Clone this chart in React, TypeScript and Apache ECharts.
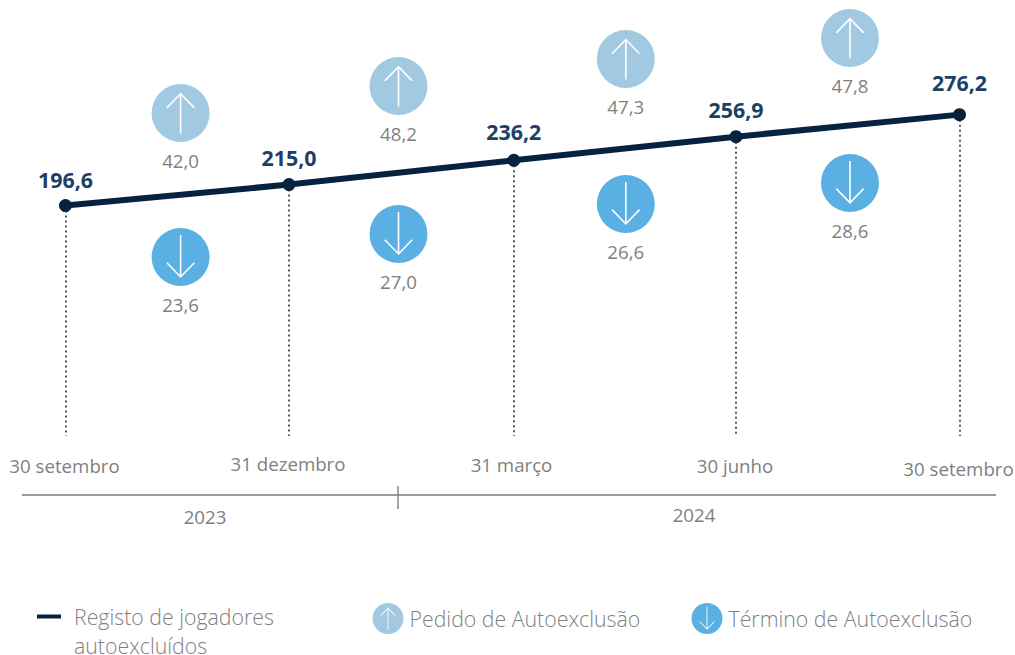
import React, { useEffect, useRef } from "react";
import * as echarts from "echarts";

const dateLabels = ["30 setembro", "31 dezembro", "31 março", "30 junho", "30 setembro"];
const yearLabels = ["2023", "2024"];
const registo = [196.6, 215.0, 236.2, 256.9, 276.2];
const pedido = [42.0, 48.2, 47.3, 47.8];
const termino = [23.6, 27.0, 26.6, 28.6];
// schematic placement along the axes (not the values themselves)
const pointX = [0, 1, 2.006, 3, 4];
const bubbleX = [0.515, 1.49, 2.507, 3.51];
const pedidoLevel = [277.6, 301.2, 324.9, 343.2];
const terminoLevel = [151.6, 171.7, 198, 216.4];
const labelLift = [9, 10, 12, 10, 15];
const tickDrop = [2, 0, 1, 2, 5];

const NAME_LINE = "Registo de jogadores autoexcluídos";
const NAME_UP = "Pedido de Autoexclusão";
const NAME_DOWN = "Término de Autoexclusão";

const circle = "M29 0A29 29 0 1 1 29 58A29 29 0 1 1 29 0Z";
const upPath =
  "path://" + circle +
  "M29 8.5L14.7 23.3L15.8 24.4L28.2 11.6L28.2 49.5L29.8 49.5L29.8 11.6L42.2 24.4L43.3 23.3Z";
const downPath =
  "path://" + circle +
  "M29 50L43.3 35.2L42.2 34.1L29.8 46.9L29.8 7L28.2 7L28.2 46.9L15.8 34.1L14.7 35.2Z";

const fmt = (v: number) => v.toFixed(1).replace(".", ",");
const FONT = '"Open Sans", sans-serif';
const GREY = "#808080";

export default function App() {
  const ref = useRef<HTMLDivElement>(null);
  useEffect(() => {
    document.body.style.margin = "0";
    const chart = echarts.init(ref.current!, null, { renderer: "svg" });
    const bubbles = (name: string, color: string, symbol: string, values: number[], levels: number[]) => ({
      name,
      type: "scatter",
      symbol,
      symbolSize: 58,
      itemStyle: { color, opacity: 1 },
      data: values.map((v, i) => [bubbleX[i], levels[i], v]),
      label: {
        show: true,
        position: "bottom",
        distance: 9,
        color: GREY,
        fontFamily: FONT,
        fontSize: 18.7,
        formatter: (p: any) => fmt(p.value[2]),
      },
      z: 3,
    });
    const tickRich: Record<string, any> = {};
    tickDrop.forEach((d, i) => {
      tickRich["t" + i] = {
        color: GREY,
        fontFamily: FONT,
        fontSize: 18.7,
        padding: [d, 2, 0, 0],
      };
    });
    const legendText = (left: number) => ({
      color: GREY,
      fontFamily: FONT,
      fontWeight: 300,
      fontSize: 21.3,
      padding: [0, 0, 0, left],
    });
    chart.setOption({
      animation: false,
      grid: { left: 65.5, right: 55.5, top: 36, bottom: 219, outerBoundsMode: "none" },
      xAxis: {
        type: "value",
        min: 0,
        max: 4,
        interval: 1,
        axisLine: { show: false },
        axisTick: { show: false },
        splitLine: { show: false },
        axisLabel: {
          margin: 18,
          hideOverlap: false,
          showMinLabel: true,
          showMaxLabel: true,
          formatter: (v: number) => `{t${v}|${dateLabels[v]}}`,
          rich: tickRich,
        },
      },
      yAxis: { type: "value", min: -5, max: 345, show: false },
      legend: [
        {
          data: [{ name: NAME_LINE, icon: "rect" }],
          left: 32, top: 601, itemWidth: 24, itemHeight: 4, selectedMode: false,
          formatter: () => "Registo de jogadores",
          textStyle: legendText(8),
        },
        {
          data: [{ name: NAME_UP, icon: upPath }],
          left: 367.5, top: 598, itemWidth: 31, itemHeight: 31, selectedMode: false,
          textStyle: legendText(1),
        },
        {
          data: [{ name: NAME_DOWN, icon: downPath }],
          left: 686.5, top: 598, itemWidth: 31, itemHeight: 31, selectedMode: false,
          textStyle: legendText(1),
        },
      ],
      series: [
        {
          name: NAME_LINE,
          type: "line",
          data: registo.map((v, i) => ({
            value: [pointX[i], v],
            label: { distance: labelLift[i] },
          })),
          symbol: "circle",
          symbolSize: 13,
          lineStyle: { color: "#05233f", width: 6 },
          itemStyle: { color: "#05233f" },
          label: {
            show: true,
            position: "top",
            color: "#1d3f66",
            fontFamily: FONT,
            fontWeight: 700,
            fontSize: 21.4,
            formatter: (p: any) => fmt(p.value[1]),
          },
          markLine: {
            silent: true,
            symbol: "none",
            label: { show: false },
            lineStyle: { color: "#222", type: [2, 3], width: 1.5 },
            data: registo.map((v, i) => [{ coord: [pointX[i], v] }, { coord: [pointX[i], -5] }]),
          },
          z: 4,
        },
        bubbles(NAME_UP, "#a2c9e2", upPath, pedido, pedidoLevel),
        bubbles(NAME_DOWN, "#5aafe3", downPath, termino, terminoLevel),
      ],
      graphic: [
        { type: "line", shape: { x1: 22, y1: 495, x2: 996, y2: 495 }, style: { stroke: "#999", lineWidth: 2 } },
        { type: "line", shape: { x1: 398, y1: 486, x2: 398, y2: 509 }, style: { stroke: "#888", lineWidth: 1.5 } },
        { type: "text", x: 205, y: 516, style: { text: yearLabels[0], fill: GREY, font: `18.7px ${FONT}`, textAlign: "center", textVerticalAlign: "middle" } },
        { type: "text", x: 694, y: 514, style: { text: yearLabels[1], fill: GREY, font: `18.7px ${FONT}`, textAlign: "center", textVerticalAlign: "middle" } },
        { type: "text", x: 74, y: 645, style: { text: "autoexcluídos", fill: GREY, font: `300 21.3px ${FONT}`, lineHeight: 20, textAlign: "left", textVerticalAlign: "middle" } },
      ],
    });
    return () => chart.dispose();
  }, []);
  return <div ref={ref} style={{ width: 1015, height: 655 }} />;
}
